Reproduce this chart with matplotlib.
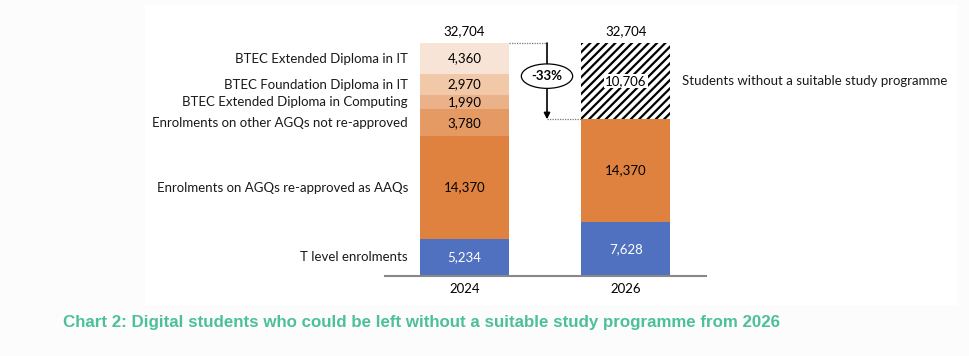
import matplotlib
matplotlib.use("Agg")
import matplotlib.pyplot as plt
from matplotlib.patches import Rectangle

# ---- data ----
years = ["2024", "2026"]
seg_names_2024 = ["T level enrolments",
                  "Enrolments on AGQs re-approved as AAQs",
                  "Enrolments on other AGQs not re-approved",
                  "BTEC Extended Diploma in Computing",
                  "BTEC Foundation Diploma in IT",
                  "BTEC Extended Diploma in IT"]
values_2024 = [5234, 14370, 3780, 1990, 2970, 4360]
colors_2024 = ["#4F71BF", "#E0823F", "#E59A64", "#EBB28A", "#F1C9A8", "#F8E4D6"]
text_colors_2024 = ["white", "black", "black", "black", "black", "black"]

values_2026 = [7628, 14370, 10706]
label_2026_gap = "Students without a suitable study programme"
totals = [32704, 32704]
change_label = "-33%"
title = "Chart 2: Digital students who could be left without a suitable study programme from 2026"

plt.rcParams['font.family'] = ['Lato', 'DejaVu Sans']
plt.rcParams['hatch.linewidth'] = 1.6
W, H = 970, 356
fig = plt.figure(figsize=(W / 100, H / 100), dpi=100, facecolor="#FCFCFC")
fig.patches.append(Rectangle((145 / W, 1 - 305 / H), (958 - 145) / W, 300 / H,
                             transform=fig.transFigure, facecolor="white",
                             edgecolor="none", zorder=-10))

ax_l, ax_r = 385, 706
ax_b, ax_t = 276, 43
ax = fig.add_axes([ax_l / W, 1 - ax_b / H, (ax_r - ax_l) / W, (ax_b - ax_t) / H])
ax.set_facecolor("none")
pxu = 161.5
c0 = 464.5
ax.set_xlim((ax_l - c0) / pxu, 1 + (ax_r - 626) / pxu)
ax.set_ylim(0, totals[0])
bw = 89 / pxu
fs = 9.5

# 2024 bar
bottom = 0
for v, col, tc, name in zip(values_2024, colors_2024, text_colors_2024, seg_names_2024):
    ax.bar(0, v, bottom=bottom, width=bw, color=col, edgecolor="none")
    ax.text(0, bottom + v / 2, f"{v:,}", ha="center", va="center", color=tc, fontsize=fs)
    ax.text((408 - c0) / pxu, bottom + v / 2, name, ha="right", va="center",
            fontsize=fs, color="#1a1a1a", clip_on=False)
    bottom += v

# 2026 bar
ax.bar(1, values_2026[0], bottom=0, width=bw, color=colors_2024[0], edgecolor="none")
ax.text(1, values_2026[0] / 2, f"{values_2026[0]:,}", ha="center", va="center", color="white", fontsize=fs)
bottom = values_2026[0]
ax.bar(1, values_2026[1], bottom=bottom, width=bw, color=colors_2024[1], edgecolor="none")
ax.text(1, bottom + values_2026[1] / 2, f"{values_2026[1]:,}", ha="center", va="center", color="black", fontsize=fs)
bottom += values_2026[1]
ax.bar(1, values_2026[2], bottom=bottom, width=bw, color="white", edgecolor="black",
       hatch="////", linewidth=0)
ax.text(1, bottom + values_2026[2] / 2, f"{values_2026[2]:,}", ha="center", va="center",
        color="black", fontsize=fs,
        bbox=dict(boxstyle="square,pad=0.1", facecolor="white", edgecolor="none"))
ax.text((682 - c0) / pxu, bottom + values_2026[2] / 2, label_2026_gap, ha="left", va="center",
        fontsize=fs, color="#1a1a1a", clip_on=False)
gap_base = bottom

# totals
for i, t in enumerate(totals):
    ax.text(i, t + 1700, f"{t:,}", ha="center", va="center", fontsize=fs, clip_on=False)

# arrow + dotted connectors
ax_x = (547 - c0) / pxu
ax.plot([bw / 2, ax_x], [totals[0], totals[0]], ls=(0, (1, 1)), color="#777777", lw=0.9, clip_on=False)
ax.plot([ax_x, 1 - bw / 2], [gap_base, gap_base], ls=(0, (1, 1)), color="#777777", lw=0.9, clip_on=False)
ax.annotate("", xy=(ax_x, gap_base), xytext=(ax_x, totals[0]),
            arrowprops=dict(arrowstyle="-|>", color="black", lw=1.2, mutation_scale=9,
                            shrinkA=0, shrinkB=0))
ax.text(ax_x, (totals[0] + gap_base) / 2 + 700, change_label, ha="center", va="center",
        fontsize=fs, fontweight="bold",
        bbox=dict(boxstyle="ellipse,pad=0.2", facecolor="white", edgecolor="black", lw=0.9))

# axes styling
for s in ["left", "right", "top"]:
    ax.spines[s].set_visible(False)
ax.spines["bottom"].set_color("#888888")
ax.spines["bottom"].set_linewidth(1.5)
ax.set_yticks([])
ax.set_xticks([0, 1])
ax.set_xticklabels(years, fontsize=fs)
ax.tick_params(axis="x", length=0, pad=5)

fig.text(63 / W, 1 - 323 / H, title, ha="left", va="center", fontsize=12.2,
         fontweight="bold", color="#4CBF9B", family=["Liberation Sans", "DejaVu Sans"])

fig.savefig("out.png", dpi=100, facecolor=fig.get_facecolor())
